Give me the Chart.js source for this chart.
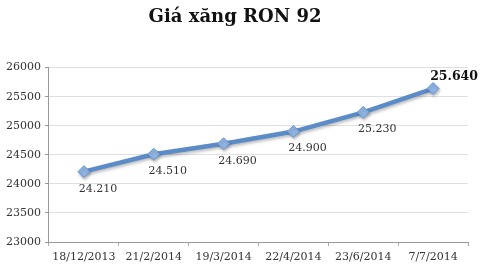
<!DOCTYPE html>
<html><head><meta charset="utf-8">
<script src="https://cdn.jsdelivr.net/npm/chart.js@4/dist/chart.umd.min.js"></script>
<style>html,body{margin:0;padding:0;background:#fff}#w{width:480px;height:265px}</style>
</head><body><div id="w"><canvas id="c"></canvas></div>
<script>
const categories = ["18/12/2013","21/2/2014","19/3/2014","22/4/2014","23/6/2014","7/7/2014"];
const prices = [24210, 24510, 24690, 24900, 25230, 25640];
const yTicks = [23000, 23500, 24000, 24500, 25000, 25500, 26000];
const seriesName = "Giá xăng RON 92";

const fmt = v => String(v).replace(/\B(?=(\d{3})+(?!\d))/g, ".");
const serif = "'DejaVu Serif', 'Liberation Serif', serif";

const labelPlugin = {
  id: 'labels',
  afterDatasetsDraw(chart) {
    const ctx = chart.ctx;
    const meta = chart.getDatasetMeta(0);
    const last = meta.data.length - 1;
    ctx.save();
    meta.data.forEach((pt, i) => {
      const isLast = i === last;
      ctx.font = (isLast ? "bold 12.5px " : "11px ") + serif;
      ctx.fillStyle = isLast ? "#111" : "#333";
      ctx.textAlign = "center";
      ctx.textBaseline = "middle";
      const dx = isLast ? 21 : 14;
      const dy = isLast ? -12 : 17;
      ctx.fillText(fmt(prices[i]), pt.x + dx, pt.y + dy);
    });
    ctx.restore();
  }
};

const shadowPlugin = {
  id: 'shadow',
  beforeDatasetsDraw(chart) {
    const ctx = chart.ctx;
    ctx.save();
    ctx.shadowColor = "rgba(0,0,0,0.25)";
    ctx.shadowBlur = 3;
    ctx.shadowOffsetX = 1;
    ctx.shadowOffsetY = 2;
  },
  afterDatasetsDraw(chart) { chart.ctx.restore(); }
};

new Chart(document.getElementById('c'), {
  type: 'line',
  data: {
    labels: categories,
    datasets: [{
      label: seriesName,
      data: prices,
      borderColor: '#5b8cc8',
      borderWidth: 4.5,
      pointStyle: 'rectRot',
      pointRadius: 6,
      pointBackgroundColor: '#8fb4e3',
      pointBorderColor: '#6a98d0',
      pointBorderWidth: 1,
      tension: 0
    }]
  },
  options: {
    responsive: true,
    maintainAspectRatio: false,
    animation: false,
    layout: { padding: { left: 2, right: 12, top: 0, bottom: 0 } },
    plugins: {
      legend: { display: false },
      tooltip: { enabled: false },
      title: {
        display: true,
        text: seriesName,
        color: '#111',
        font: { family: serif, size: 18, weight: 'bold' },
        padding: { top: 7, bottom: 39 }
      }
    },
    scales: {
      x: {
        offset: true,
        grid: { display: true, drawOnChartArea: false, tickLength: 4, color: '#aaa', offset: true },
        border: { color: '#999' },
        ticks: { color: '#333', font: { family: serif, size: 11 }, padding: 5, maxRotation: 0 },
        afterFit: axis => { axis.height = 23; }
      },
      y: {
        min: 23000, max: 26000,
        afterBuildTicks: axis => { axis.ticks = yTicks.map(v => ({ value: v })); },
        grid: { color: '#e0e0e0', tickLength: 4, tickColor: '#999' },
        border: { color: '#999' },
        ticks: { color: '#333', font: { family: serif, size: 11 }, padding: 4, callback: v => String(v) }
      }
    }
  },
  plugins: [shadowPlugin, labelPlugin]
});
</script>
</body></html>
